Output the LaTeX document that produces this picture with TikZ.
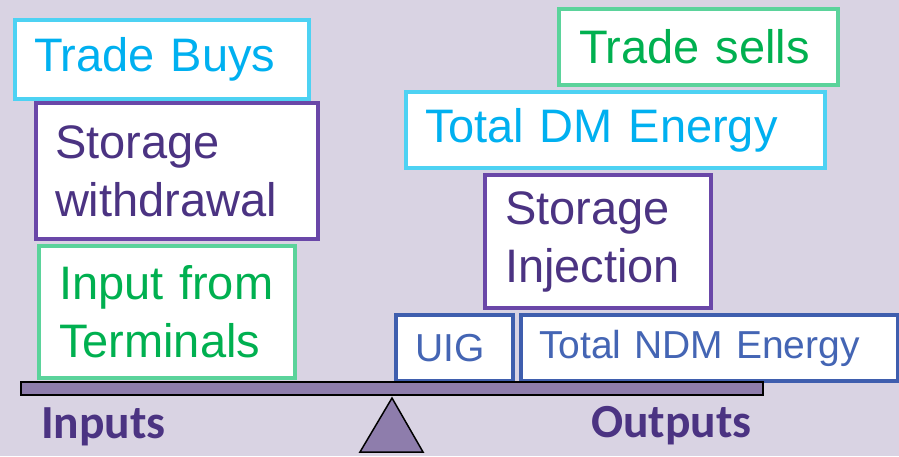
\documentclass[tikz,border=0pt]{standalone}
\usepackage{fontspec}
\setmainfont{Liberation Sans}
\newfontfamily\calibri{Carlito}
\usetikzlibrary{calc}
\definecolor{bgpurple}{HTML}{D9D3E3}
\definecolor{cyanline}{HTML}{4DD2F3}
\definecolor{cyantext}{HTML}{00B0F0}
\definecolor{purpleline}{HTML}{6A47A8}
\definecolor{purpletext}{HTML}{4B3382}
\definecolor{greenline}{HTML}{5BD39B}
\definecolor{greentext}{HTML}{00B050}
\definecolor{blueline}{HTML}{3F5EAE}
\definecolor{bluetext}{HTML}{4465B4}
\definecolor{beamfill}{HTML}{8E7DAC}

\begin{document}
\begin{tikzpicture}[x=1pt, y=-1pt,
		block/.style={draw, fill=white, line width=4pt, anchor=north west, align=left, inner ysep=0pt, font=\fontsize{47}{58}\selectfont},
		smallblock/.style={block, font=\fontsize{39}{46}\selectfont},
		side/.style={anchor=base west, inner sep=0pt, text=purpletext, font=\calibri\bfseries\fontsize{47.5}{50}\selectfont}]
		\fill[bgpurple] (0,0) rectangle (899,456);
		\useasboundingbox (0,0) rectangle (899,456);
		% inputs side
		\draw (13,18) node[block, draw=cyanline, text=cyantext, minimum height=79pt, inner xsep=19pt, text width=256pt](buys){Trade Buys};
		\draw (34,101) node[block, draw=purpleline, text=purpletext, minimum height=136pt, inner xsep=19pt, text width=244pt](withdrawal){Storage\\withdrawal};
		\draw (37,244) node[block, draw=greenline, text=greentext, minimum height=132pt, inner xsep=20pt, text width=216pt](terminals){Input from\\Terminals};
		% outputs side
		\draw (557,7) node[block, draw=greenline, text=greentext, minimum height=76pt, inner xsep=20pt, text width=239pt](sells){Trade sells};
		\draw (404,90) node[block, draw=cyanline, text=cyantext, minimum height=76pt, inner xsep=19pt, text width=381pt](dm){Total DM Energy};
		\draw (483,173) node[block, draw=purpleline, text=purpletext, minimum height=133pt, inner xsep=20pt, text width=186pt](injection){Storage\\Injection};
		\draw (394,313) node[smallblock, draw=blueline, text=bluetext, minimum height=66pt, inner xsep=19pt, text width=79pt](uig){UIG};
		\draw (519,313) node[smallblock, draw=blueline, text=bluetext, minimum height=66pt, inner xsep=18pt, text width=341pt](ndm){Total NDM Energy};
		% balance
		\draw[fill=beamfill, line width=1.5pt] (21,382) rectangle (763,395);
		\draw[fill=beamfill, line width=1.5pt] (392,398) -- (423,452) -- (360,452) -- cycle;
		\draw (41,438) node[side](inputs){Inputs};
		\draw (591,437) node[side](outputs){Outputs};
	\end{tikzpicture}
\end{document}
